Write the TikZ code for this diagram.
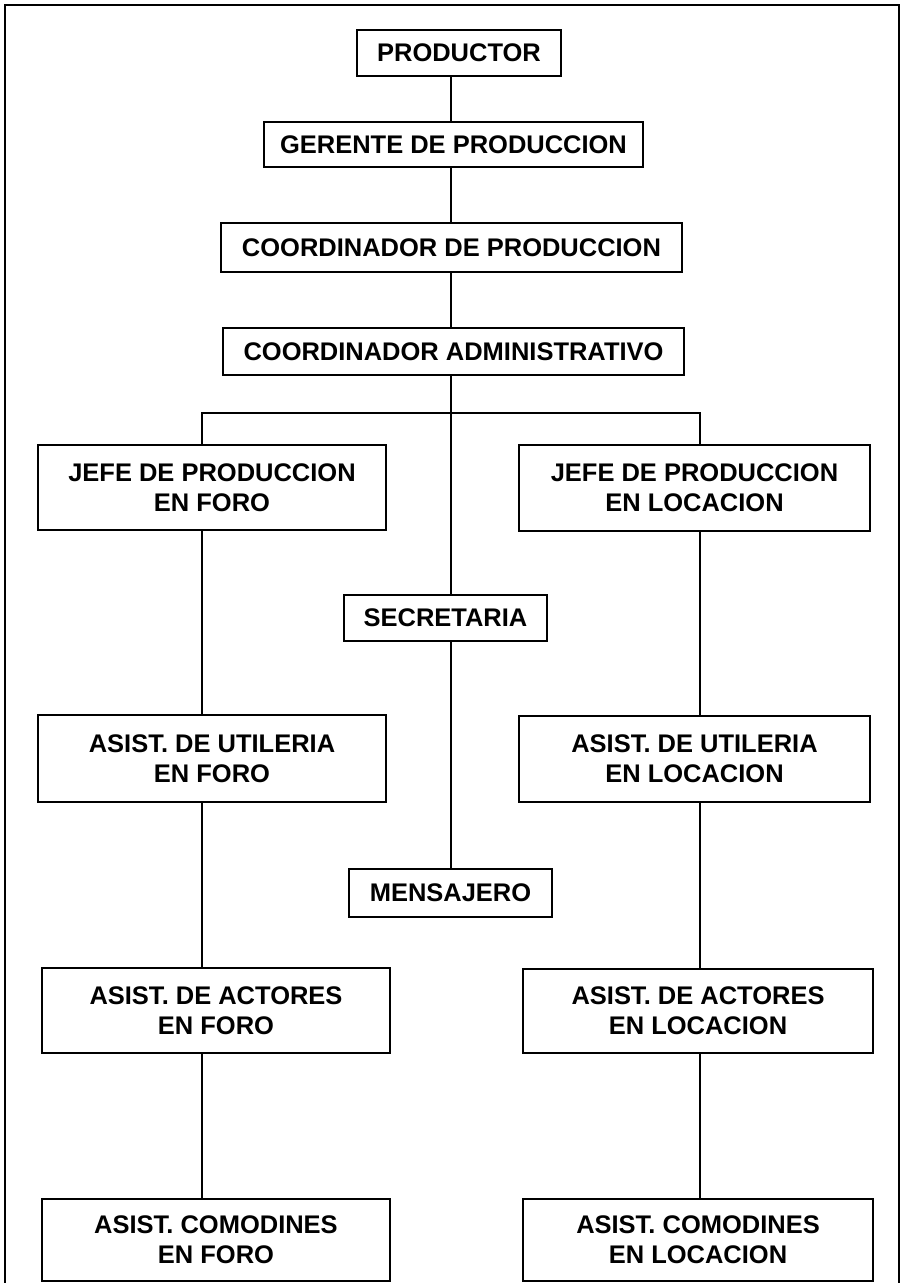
\documentclass[tikz,border=0pt]{standalone}
\usepackage{fontspec}
\setmainfont{Liberation Sans}
\usetikzlibrary{calc, positioning}
\tikzstyle{puesto}=[draw,line width=1.5pt,inner sep=0pt,align=center,font=\bfseries\fontsize{14.5}{17}\selectfont]
\tikzstyle{liga}=[line width=1.1pt]

\begin{document}
\begin{tikzpicture}
			\useasboundingbox (0,0) rectangle (18.14,-25.66);
			\draw[line width=1.5pt] (0.1,-25.8) -- (0.1,-0.1) -- (17.98,-0.1) -- (17.98,-25.8);
			\node[puesto,minimum width=4.08cm,minimum height=0.92cm] (prod) at (9.18,-1.06) {PRODUCTOR};
			\node[puesto,minimum width=7.58cm,minimum height=0.90cm] (ger) at (9.07,-2.89) {GERENTE DE PRODUCCION};
			\node[puesto,minimum width=9.22cm,minimum height=0.98cm] (cprod) at (9.03,-4.95) {COORDINADOR DE PRODUCCION};
			\node[puesto,minimum width=9.22cm,minimum height=0.94cm] (cadm) at (9.07,-7.03) {COORDINADOR ADMINISTRATIVO};
			\node[puesto,minimum width=6.96cm,minimum height=1.70cm] (jefeF) at (4.24,-9.75) {JEFE DE PRODUCCION\\EN FORO};
			\node[puesto,minimum width=7.02cm,minimum height=1.72cm] (jefeL) at (13.89,-9.76) {JEFE DE PRODUCCION\\EN LOCACION};
			\node[puesto,minimum width=4.06cm,minimum height=0.92cm] (sec) at (8.91,-12.36) {SECRETARIA};
			\node[puesto,minimum width=6.96cm,minimum height=1.74cm] (utilF) at (4.24,-15.17) {ASIST. DE UTILERIA\\EN FORO};
			\node[puesto,minimum width=7.02cm,minimum height=1.72cm] (utilL) at (13.89,-15.18) {ASIST. DE UTILERIA\\EN LOCACION};
			\node[puesto,minimum width=4.06cm,minimum height=0.96cm] (mens) at (9.01,-17.86) {MENSAJERO};
			\node[puesto,minimum width=6.96cm,minimum height=1.70cm] (actF) at (4.32,-20.21) {ASIST. DE ACTORES\\EN FORO};
			\node[puesto,minimum width=7.00cm,minimum height=1.68cm] (actL) at (13.96,-20.22) {ASIST. DE ACTORES\\EN LOCACION};
			\node[puesto,minimum width=6.96cm,minimum height=1.64cm] (comF) at (4.32,-24.80) {ASIST. COMODINES\\EN FORO};
			\node[puesto,minimum width=7.00cm,minimum height=1.64cm] (comL) at (13.96,-24.80) {ASIST. COMODINES\\EN LOCACION};
			\coordinate (eje) at (9.02,0);
			\coordinate (busF) at (4.04,-8.26);
			\coordinate (busL) at (14.00,-8.26);
			\draw[liga] (prod.south -| eje) -- (ger.north -| eje);
			\draw[liga] (ger.south -| eje) -- (cprod.north -| eje);
			\draw[liga] (cprod.south -| eje) -- (cadm.north -| eje);
			\draw[liga] (cadm.south -| eje) -- (sec.north -| eje);
			\draw[liga] (sec.south -| eje) -- (mens.north -| eje);
			\draw[liga] (jefeF.north -| busF) -- (busF) -- (busL) -- (jefeL.north -| busL);
			\draw[liga] (jefeF.south -| busF) -- (utilF.north -| busF);
			\draw[liga] (utilF.south -| busF) -- (actF.north -| busF);
			\draw[liga] (actF.south -| busF) -- (comF.north -| busF);
			\draw[liga] (jefeL.south -| busL) -- (utilL.north -| busL);
			\draw[liga] (utilL.south -| busL) -- (actL.north -| busL);
			\draw[liga] (actL.south -| busL) -- (comL.north -| busL);
		\end{tikzpicture}
\end{document}
